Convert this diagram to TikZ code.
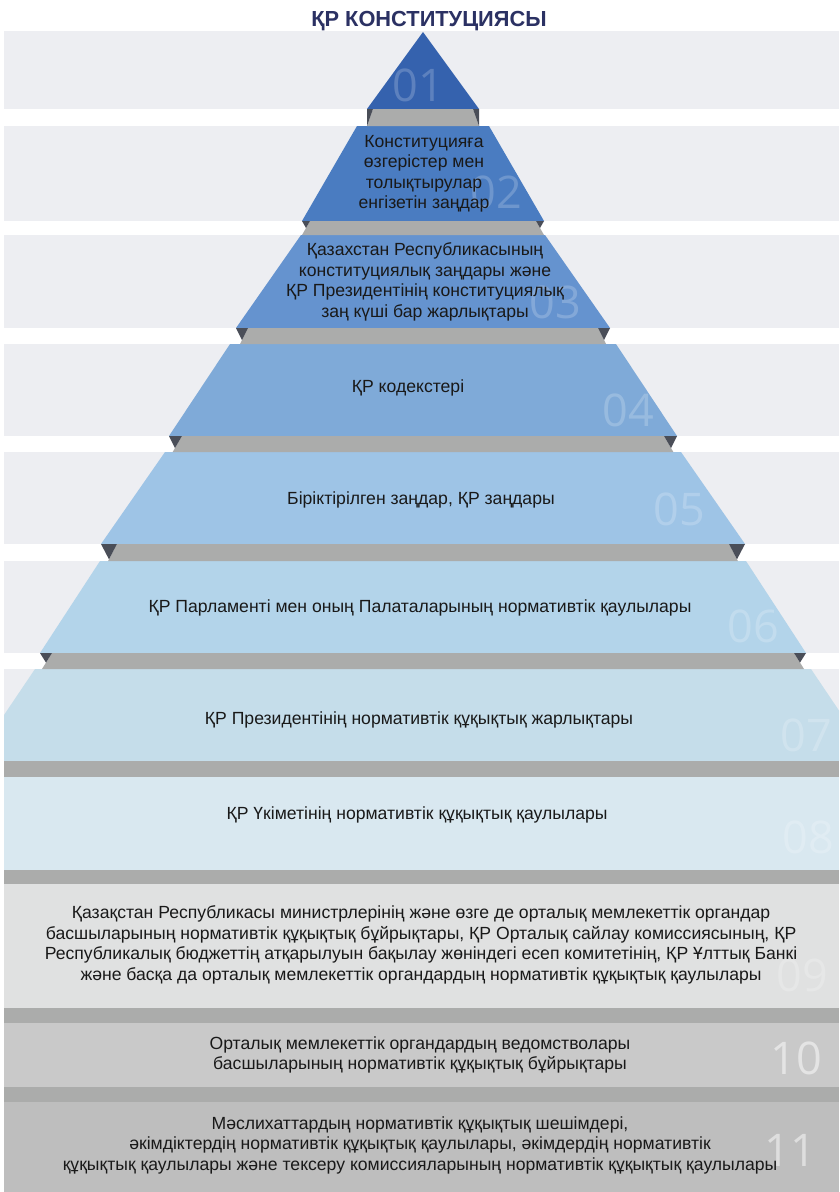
\documentclass[tikz,border=0pt]{standalone}
\usepackage{fontspec}
\setmainfont{Liberation Sans}
\newfontfamily\numfont{Open Sans}
\usetikzlibrary{calc}
\definecolor{rowbg}{HTML}{EDEEF2}
\definecolor{sepgray}{HTML}{ABACAB}
\definecolor{foldcol}{HTML}{4A4E58}
\definecolor{titlecol}{HTML}{2B3163}
\definecolor{lvA}{HTML}{3562AE}
\definecolor{lvB}{HTML}{4A7CC1}
\definecolor{lvC}{HTML}{6593CF}
\definecolor{lvD}{HTML}{7FAAD8}
\definecolor{lvE}{HTML}{9EC4E6}
\definecolor{lvF}{HTML}{B3D4EA}
\definecolor{lvG}{HTML}{C5DDEA}
\definecolor{lvH}{HTML}{D9E8F0}
\definecolor{lvI}{HTML}{E0E1E1}
\definecolor{lvJ}{HTML}{C9C9C9}
\definecolor{lvK}{HTML}{BEBEBE}
\tikzset{
  lvtext/.style={font=\fontsize{17.6}{20.5}\selectfont,align=center,
    text=black!90,inner sep=0pt},
  lvnum/.style={font=\numfont\fontsize{45}{45}\selectfont,text=white,
    text opacity=0.2,inner sep=0pt},
  lvnumhi/.style={lvnum,text opacity=0.5},
  titletext/.style={font=\bfseries\fontsize{21.8}{22}\selectfont,text=titlecol,
    inner sep=0pt},
  sepband/.style={fill=sepgray},
  fold/.style={fill=foldcol},
}

\begin{document}
\begin{tikzpicture}[x=1pt,y=-1pt]
  \useasboundingbox[fill=white] (0,0) rectangle (839,1192);
  \begin{scope}
  \clip (4,0) rectangle (839,1192);
  % rows behind the pyramid
  \foreach \t/\b in {31/109,126/221,235/328,344/436,452/544,561/653,669/761}
    \fill[rowbg] (4,\t) rectangle (839,\b);
  % pyramid levels
  \fill[lvA] (423,32) -- (479,109) -- (367,109) -- cycle;
  \foreach \c/\t/\wt/\b/\wb in {lvB/126/66/221/121,lvC/235/122/328/187,
      lvD/344/193/436/254,lvE/452/258/544/322,lvF/561/323/653/383,
      lvG/669/388/761/450}
    \fill[\c] (423-\wt,\t) -- (423+\wt,\t) -- (423+\wb,\b) -- (423-\wb,\b) -- cycle;
  % folds between the levels
  \foreach \y/\h/\w/\d/\a/\s in {109/17/56/6/0/1,221/14/121/8/4/0.5,
      328/16/187/12/6/0.75,436/16/254/13/6/0.75,544/17/322/16/8/0.9,
      653/16/383/12/6/0.6}{
    \fill[sepband] (423-\w+\d,\y) -- (423+\w-\d,\y)
      -- (423+\w-\d+\d/\s-\a/\s,\y+\h) -- (423-\w+\d-\d/\s+\a/\s,\y+\h) -- cycle;
    \fill[fold] (423-\w,\y) -- (423-\w+\d,\y) -- (423-\w+\a,\y+\s*\h) -- cycle;
    \fill[fold] (423+\w,\y) -- (423+\w-\d,\y) -- (423+\w-\a,\y+\s*\h) -- cycle;
  }
  % full-width levels
  \foreach \t/\b in {761/777,870/884,1008/1023,1087/1102}
    \fill[sepband] (4,\t) rectangle (839,\b);
  \fill[lvH] (4,777) rectangle (839,870);
  \fill[lvI] (4,884) rectangle (839,1008);
  \fill[lvJ] (4,1023) rectangle (839,1087);
  \fill[lvK] (4,1102) rectangle (839,1192);
  % level numbers
  \foreach \n/\x/\y in {01/418/85,02/496/192,03/555/302,04/628/410,05/679/509,
      06/753/626,07/806/735,08/808/837,09/802/975}
    \node[lvnum] (num\n) at (\x,\y) {\n};
  \node[lvnumhi] (num10) at (796,1058) {10};
  \node[lvnumhi] (num11) at (790,1150) {11};
  \end{scope}

  \node[titletext,anchor=base] (title) at (429,26) {ҚР КОНСТИТУЦИЯСЫ};

  \node[lvtext] (lv2) at (424,174) {Конституцияға\\өзгерістер мен\\толықтырулар\\енгізетін заңдар};
  \node[lvtext] (lv3) at (425,282) {Қазахстан Республикасының\\конституциялық заңдары және\\ҚР Президентінің конституциялық\\заң күші бар жарлықтары};
  \node[lvtext] (lv4) at (408,388) {ҚР кодекстері};
  \node[lvtext] (lv5) at (421,500) {Біріктірілген заңдар, ҚР заңдары};
  \node[lvtext] (lv6) at (420,608) {ҚР Парламенті мен оның Палаталарының нормативтік қаулылары};
  \node[lvtext] (lv7) at (419,720) {ҚР Президентінің нормативтік құқықтық жарлықтары};
  \node[lvtext] (lv8) at (417,815) {ҚР Үкіметінің нормативтік құқықтық қаулылары};
  \node[lvtext] (lv9) at (421,945) {Қазақстан Республикасы министрлерінің және өзге де орталық мемлекеттік органдар\\басшыларының нормативтік құқықтық бұйрықтары, ҚР Орталық сайлау комиссиясының, ҚР\\Республикалық бюджеттің атқарылуын бақылау жөніндегі есеп комитетінің, ҚР Ұлттық Банкі\\және басқа да орталық мемлекеттік органдардың нормативтік құқықтық қаулылары};
  \node[lvtext] (lv10) at (420,1055) {Орталық мемлекеттік органдардың ведомстволары\\басшыларының нормативтік құқықтық бұйрықтары};
  \node[lvtext] (lv11) at (420,1145) {Мәслихаттардың нормативтік құқықтық шешімдері,\\әкімдіктердің нормативтік құқықтық қаулылары, әкімдердің нормативтік\\құқықтық қаулылары және тексеру комиссияларының нормативтік құқықтық қаулылары};
\end{tikzpicture}
\end{document}
